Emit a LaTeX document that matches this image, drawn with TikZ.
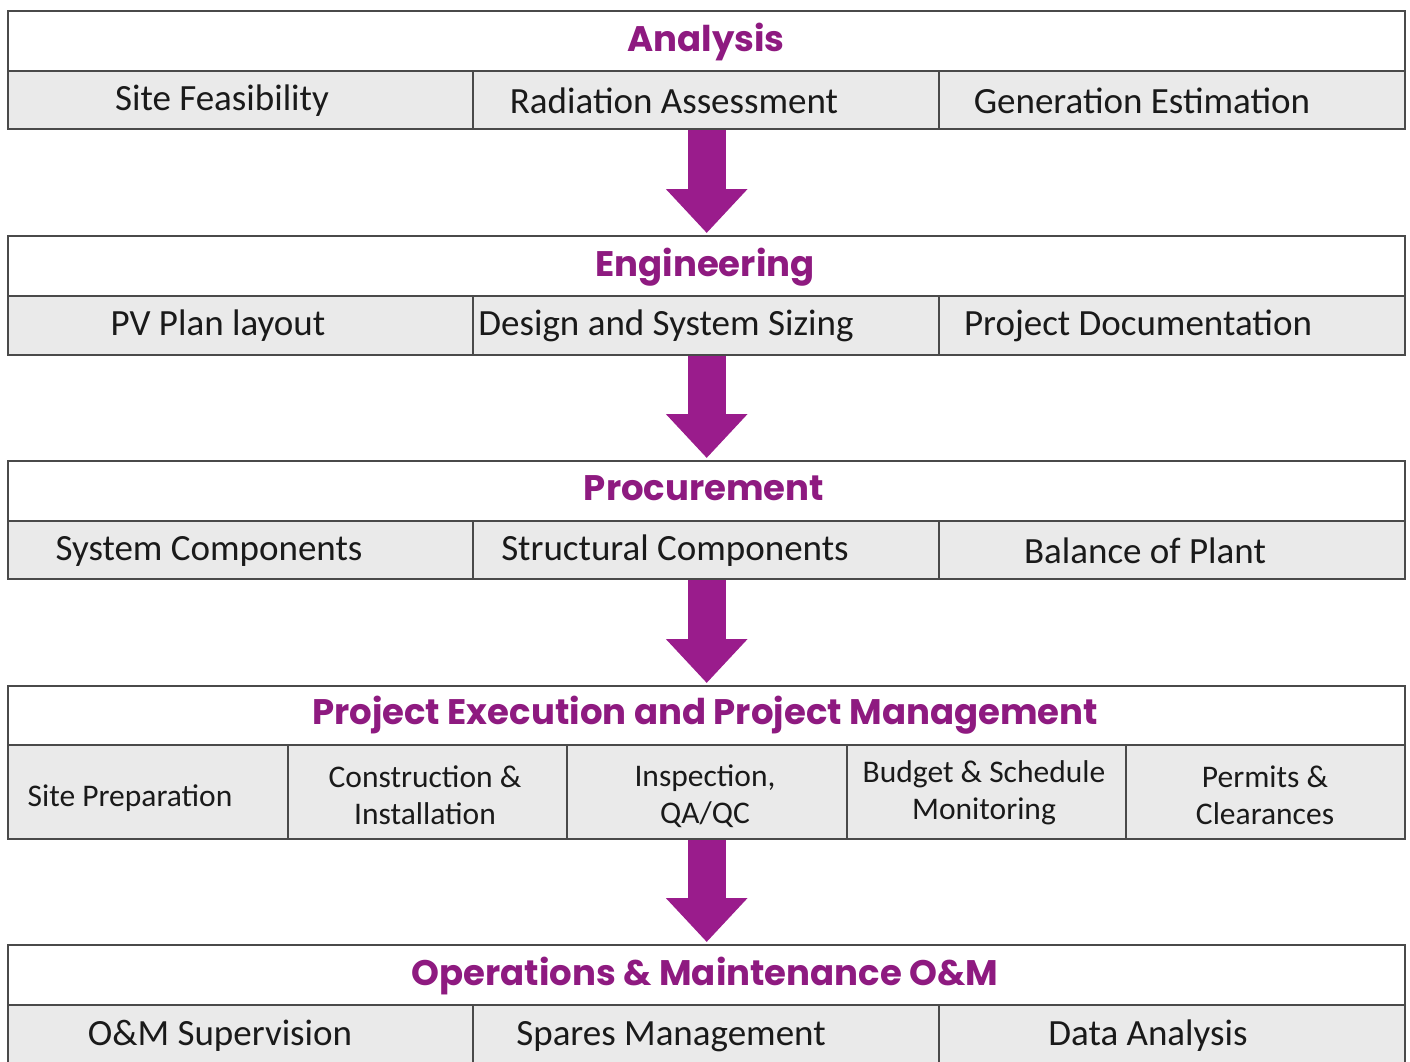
\documentclass[tikz,border=0pt]{standalone}
\usepackage{fontspec}
\setmainfont{Carlito}
\newfontfamily\headfont{Poppins}
\usetikzlibrary{arrows.meta,calc}
\definecolor{plum}{HTML}{9A1C8C}
\definecolor{headc}{HTML}{8E1A80}
\definecolor{cellgray}{HTML}{EAEAEA}
\definecolor{edge}{HTML}{4A4A4A}
\definecolor{ink}{HTML}{1A1A1A}
\begin{document}
\begin{tikzpicture}[x=1pt,y=-1pt,
  hdr/.style={draw=edge, line width=2.4pt, fill=white, minimum width=1397pt,
    minimum height=60pt, inner sep=0pt, anchor=north west},
  cell/.style={draw=edge, line width=2.4pt, fill=cellgray, inner sep=0pt, anchor=north west},
  htext/.style={font=\headfont\bfseries\fontsize{35.5}{40}\selectfont, text=headc, anchor=base, inner sep=0pt},
  btext/.style={font=\fontsize{37}{44}\selectfont, text=ink, anchor=base, inner sep=0pt},
  stext/.style={font=\fontsize{31.5}{37}\selectfont, text=ink, align=center, inner sep=0pt},
  flow/.style={draw=plum, line width=38pt, -{Triangle[width=79pt,length=44pt]}, shorten >=2pt}
]
\useasboundingbox (0,0) rectangle (1410,1061);
\clip (0,0) rectangle (1410,1061);

% Block 1: Analysis
\node[hdr] (A) at (7,10) {};
\node[cell, minimum width=465pt, minimum height=58pt] (A1) at (7,70) {};
\node[cell, minimum width=466pt, minimum height=58pt] (A2) at (472,70) {};
\node[cell, minimum width=466pt, minimum height=58pt] (A3) at (938,70) {};
\node[htext] (At) at (706,51) {Analysis};
\node[btext] (A1t) at (222,110) {Site Feasibility};
\node[btext] (A2t) at (674,113) {Radiation Assessment};
\node[btext] (A3t) at (1142,113) {Generation Estimation};

% Block 2: Engineering
\node[hdr] (E) at (7,235) {};
\node[cell, minimum width=465pt, minimum height=59pt] (E1) at (7,295) {};
\node[cell, minimum width=466pt, minimum height=59pt] (E2) at (472,295) {};
\node[cell, minimum width=466pt, minimum height=59pt] (E3) at (938,295) {};
\node[htext] (Et) at (705,276) {Engineering};
\node[btext] (E1t) at (218,335) {PV Plan layout};
\node[btext] (E2t) at (666,335) {Design and System Sizing};
\node[btext] (E3t) at (1138,335) {Project Documentation};

% Block 3: Procurement
\node[hdr] (P) at (7,460) {};
\node[cell, minimum width=465pt, minimum height=58pt] (P1) at (7,520) {};
\node[cell, minimum width=466pt, minimum height=58pt] (P2) at (472,520) {};
\node[cell, minimum width=466pt, minimum height=58pt] (P3) at (938,520) {};
\node[htext] (Pt) at (704,500) {Procurement};
\node[btext] (P1t) at (209,560) {System Components};
\node[btext] (P2t) at (675,560) {Structural Components};
\node[btext] (P3t) at (1145,563) {Balance of Plant};

% Block 4: Project Execution
\node[hdr, minimum height=59pt] (X) at (7,685) {};
\node[cell, minimum width=280pt, minimum height=94pt] (X1) at (7,744) {};
\node[cell, minimum width=279pt, minimum height=94pt] (X2) at (287,744) {};
\node[cell, minimum width=280pt, minimum height=94pt] (X3) at (566,744) {};
\node[cell, minimum width=279pt, minimum height=94pt] (X4) at (846,744) {};
\node[cell, minimum width=279pt, minimum height=94pt] (X5) at (1125,744) {};
\node[htext] (Xt) at (705,724) {Project Execution and Project Management};
\node[stext, anchor=base] (X1t) at (130,806) {Site Preparation};
\node[stext] (X2t) at (425,795) {Construction \&\\Installation};
\node[stext] (X3t) at (705,796) {Inspection,\\QA/QC};
\node[stext] (X4t) at (984,793) {Budget \& Schedule\\Monitoring};
\node[stext] (X5t) at (1265,795) {Permits \&\\Clearances};

% Block 5: O&M
\node[hdr] (O) at (7,944) {};
\node[cell, minimum width=465pt, minimum height=80pt] (O1) at (7,1004) {};
\node[cell, minimum width=466pt, minimum height=80pt] (O2) at (472,1004) {};
\node[cell, minimum width=466pt, minimum height=80pt] (O3) at (938,1004) {};
\node[htext] (Ot) at (705,985) {Operations \& Maintenance O\&M};
\node[btext] (O1t) at (220,1045) {O\&M Supervision};
\node[btext] (O2t) at (671,1045) {Spares Management};
\node[btext] (O3t) at (1148,1045) {Data Analysis};

% Arrows
\draw[flow] ($(A.south)+(0,58)$) -- (E.north);
\draw[flow] ($(E.south)+(0,59)$) -- (P.north);
\draw[flow] ($(P.south)+(0,58)$) -- (X.north);
\draw[flow] ($(X.south)+(0,94)$) -- (O.north);
\end{tikzpicture}
\end{document}
